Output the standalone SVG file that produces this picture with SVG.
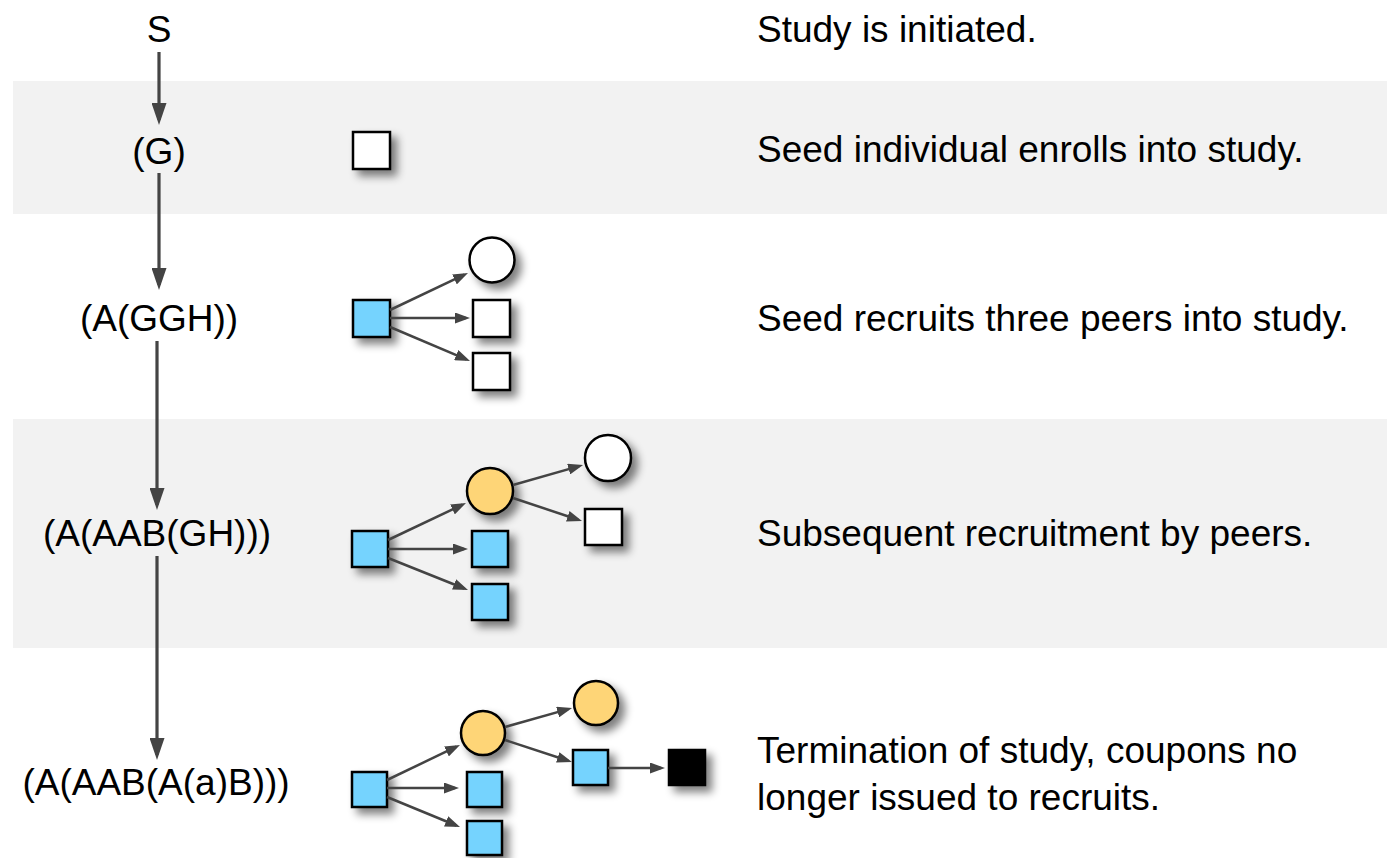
<svg xmlns="http://www.w3.org/2000/svg" width="1387" height="858" viewBox="0 0 1387 858">
  <defs>
    <style>
      .band { fill: #f2f2f2; }
      .lbl { font-family: "Liberation Sans", Arial, Helvetica, sans-serif; font-size: 37px; fill: #000; }
      .sq, .ci { stroke: #000; stroke-width: 2.5; filter: url(#shadow); }
      .white { fill: #ffffff; }
      .blue { fill: #74d3fe; }
      .orange { fill: #fed577; }
      .black { fill: #000000; }
      .main { stroke: #444; stroke-width: 3.2; fill: none; marker-end: url(#bigArrow); }
      .edge { stroke: #444; stroke-width: 2.5; fill: none; marker-end: url(#smallArrow); }
    </style>
    <filter id="shadow" x="-40%" y="-40%" width="200%" height="200%">
      <feGaussianBlur in="SourceAlpha" stdDeviation="4"/>
      <feOffset dx="6" dy="6" result="b"/>
      <feComponentTransfer><feFuncA type="linear" slope="0.5"/></feComponentTransfer>
      <feMerge><feMergeNode/><feMergeNode in="SourceGraphic"/></feMerge>
    </filter>
    <marker id="bigArrow" markerUnits="userSpaceOnUse" markerWidth="22" markerHeight="15" refX="17" refY="7.5" orient="auto">
      <path d="M0,0 L22,7.5 L0,15 z" fill="#444"/>
    </marker>
    <marker id="smallArrow" markerUnits="userSpaceOnUse" markerWidth="15" markerHeight="11" refX="11" refY="5.5" orient="auto">
      <path d="M0,0 L15,5.5 L0,11 z" fill="#444"/>
    </marker>
  </defs>

  <rect width="1387" height="858" fill="#ffffff"/>
  <rect class="band" x="13" y="81" width="1374" height="133"/>
  <rect class="band" x="13" y="419" width="1374" height="229"/>

  <g id="labels-left">
    <text class="lbl" x="159" y="42" text-anchor="middle">S</text>
    <text class="lbl" x="159" y="164" text-anchor="middle">(G)</text>
    <text class="lbl" x="159" y="331" text-anchor="middle">(A(GGH))</text>
    <text class="lbl" x="157" y="546" text-anchor="middle">(A(AAB(GH)))</text>
    <text class="lbl" x="156" y="795" text-anchor="middle">(A(AAB(A(a)B)))</text>
  </g>

  <g id="labels-right">
    <text class="lbl" x="757" y="42">Study is initiated.</text>
    <text class="lbl" x="757" y="162">Seed individual enrolls into study.</text>
    <text class="lbl" x="757" y="331">Seed recruits three peers into study.</text>
    <text class="lbl" x="757" y="546">Subsequent recruitment by peers.</text>
    <text class="lbl" x="757" y="763">Termination of study, coupons no</text>
    <text class="lbl" x="757" y="810">longer issued to recruits.</text>
  </g>

  <g id="row1-nodes">
    <rect id="r1-seed" class="sq white" x="353" y="132" width="37" height="37"/>
  </g>

  <g id="row2-nodes">
    <rect id="r2-seed" class="sq blue" x="353" y="300" width="37" height="37"/>
    <circle id="r2-c1" class="ci white" cx="492" cy="260" r="22.5"/>
    <rect id="r2-s1" class="sq white" x="473" y="300" width="37" height="37"/>
    <rect id="r2-s2" class="sq white" x="473" y="353" width="37" height="37"/>
  </g>

  <g id="row3-nodes">
    <rect id="r3-seed" class="sq blue" x="352" y="531" width="36" height="36"/>
    <circle id="r3-c1" class="ci orange" cx="490" cy="491" r="23"/>
    <circle id="r3-c2" class="ci white" cx="608" cy="458" r="23"/>
    <rect id="r3-s3" class="sq white" x="585" y="509" width="37" height="36"/>
    <rect id="r3-s1" class="sq blue" x="472" y="531" width="36" height="36"/>
    <rect id="r3-s2" class="sq blue" x="472" y="584" width="36" height="36"/>
  </g>

  <g id="row4-nodes">
    <rect id="r4-seed" class="sq blue" x="352" y="772" width="35" height="35"/>
    <circle id="r4-c1" class="ci orange" cx="483" cy="733" r="22"/>
    <circle id="r4-c2" class="ci orange" cx="596" cy="703" r="22"/>
    <rect id="r4-s3" class="sq blue" x="573" y="750" width="35" height="35"/>
    <rect id="r4-end" class="sq black" x="669" y="750" width="36" height="35"/>
    <rect id="r4-s1" class="sq blue" x="467" y="772" width="35" height="35"/>
    <rect id="r4-s2" class="sq blue" x="467" y="821" width="35" height="34"/>
  </g>

  <g id="connectors">
    <line class="main" x1="159" y1="52" x2="159" y2="120"/>
    <line class="main" x1="159" y1="173" x2="159" y2="285"/>
    <line class="main" x1="157" y1="341" x2="157" y2="505"/>
    <line class="main" x1="157" y1="556" x2="157" y2="755"/>

    <line class="edge" x1="390" y1="310" x2="464.4" y2="274.7"/>
    <line class="edge" x1="390" y1="318" x2="466" y2="318"/>
    <line class="edge" x1="390" y1="327" x2="466.3" y2="359.4"/>

    <line class="edge" x1="388" y1="540" x2="462.4" y2="504.7"/>
    <line class="edge" x1="388" y1="549" x2="464" y2="549"/>
    <line class="edge" x1="388" y1="558" x2="464.3" y2="588.5"/>
    <line class="edge" x1="513" y1="485" x2="579.2" y2="466.1"/>
    <line class="edge" x1="513" y1="498" x2="578.2" y2="519.7"/>

    <line class="edge" x1="387" y1="780" x2="456.4" y2="746.7"/>
    <line class="edge" x1="387" y1="788" x2="455" y2="788"/>
    <line class="edge" x1="387" y1="797" x2="456.3" y2="825.5"/>
    <line class="edge" x1="505" y1="727" x2="568.2" y2="709.1"/>
    <line class="edge" x1="505" y1="740" x2="568.2" y2="760.8"/>
    <line class="edge" x1="608" y1="768" x2="661" y2="768"/>
  </g>
</svg>
